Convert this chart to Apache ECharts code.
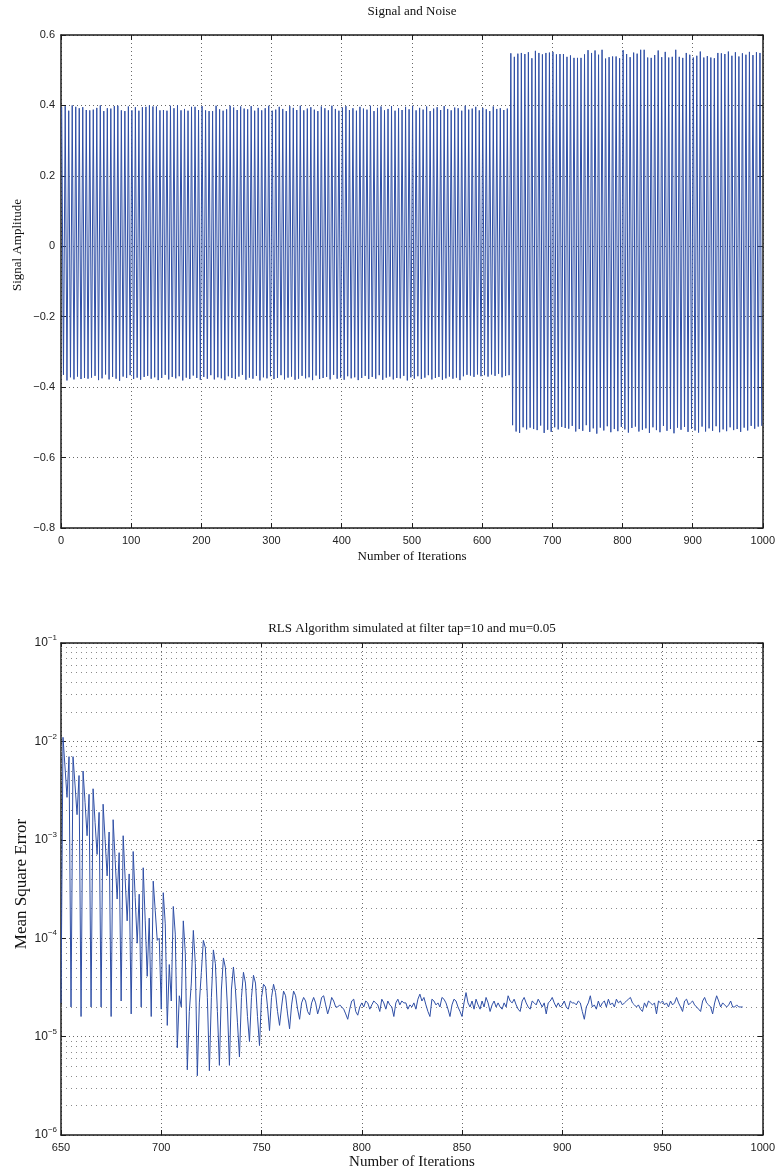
<!DOCTYPE html>
<html>
<head>
<meta charset="utf-8">
<script src="https://cdn.jsdelivr.net/npm/echarts@6/dist/echarts.min.js"></script>
<style>
html,body{margin:0;padding:0;background:#fff;}
#chart{width:778px;height:1171px;}
</style>
</head>
<body>
<div id="chart"></div>
<script>
// ---------- Top chart: Signal and Noise ----------
const TOP_X_TICKS = [0, 1000, 100];           // min, max, step
const TOP_Y_TICKS = [-0.8, 0.6, 0.2];
const SAMPLE_PERIOD = 5;                       // iterations per oscillation
// peak / trough amplitudes of each oscillation, iterations 0-639
const SMALL_PEAKS = [
  0.395,0.398,0.385,0.400,0.396,0.392,0.395,0.387,
  0.386,0.388,0.393,0.400,0.384,0.392,0.391,0.398,
  0.399,0.386,0.384,0.397,0.386,0.395,0.385,0.395,
  0.396,0.400,0.397,0.397,0.386,0.387,0.385,0.399,
  0.392,0.400,0.386,0.390,0.385,0.396,0.396,0.387,
  0.398,0.386,0.384,0.384,0.399,0.389,0.385,0.389,
  0.399,0.394,0.387,0.397,0.391,0.389,0.398,0.385,
  0.393,0.386,0.392,0.399,0.385,0.388,0.396,0.390,
  0.384,0.398,0.393,0.387,0.399,0.386,0.391,0.395,
  0.388,0.384,0.397,0.392,0.386,0.399,0.390,0.385,
  0.394,0.398,0.387,0.392,0.385,0.396,0.391,0.388,
  0.399,0.384,0.393,0.397,0.386,0.390,0.398,0.385,
  0.392,0.387,0.396,0.389,0.399,0.386,0.393,0.388,
  0.397,0.384,0.391,0.395,0.387,0.398,0.390,0.386,
  0.394,0.392,0.385,0.399,0.388,0.391,0.396,0.386,
  0.393,0.389,0.384,0.397,0.390,0.392,0.387,0.391
];
const SMALL_TROUGHS = [
  -0.365,-0.381,-0.372,-0.378,-0.370,-0.377,-0.374,-0.376,
  -0.373,-0.368,-0.380,-0.375,-0.364,-0.378,-0.371,-0.376,
  -0.382,-0.370,-0.374,-0.366,-0.377,-0.373,-0.379,-0.371,
  -0.368,-0.376,-0.372,-0.380,-0.374,-0.365,-0.378,-0.371,
  -0.375,-0.369,-0.381,-0.373,-0.377,-0.367,-0.374,-0.379,
  -0.371,-0.376,-0.366,-0.378,-0.372,-0.375,-0.380,-0.369,
  -0.374,-0.377,-0.370,-0.365,-0.379,-0.373,-0.376,-0.368,
  -0.381,-0.372,-0.375,-0.369,-0.377,-0.374,-0.366,-0.378,
  -0.373,-0.370,-0.379,-0.376,-0.368,-0.375,-0.372,-0.380,
  -0.367,-0.377,-0.374,-0.371,-0.378,-0.365,-0.376,-0.373,
  -0.379,-0.369,-0.375,-0.372,-0.380,-0.374,-0.368,-0.377,
  -0.371,-0.376,-0.366,-0.379,-0.373,-0.370,-0.378,-0.374,
  -0.375,-0.368,-0.381,-0.372,-0.376,-0.369,-0.377,-0.373,
  -0.366,-0.378,-0.374,-0.371,-0.379,-0.375,-0.370,-0.376,
  -0.373,-0.380,-0.369,-0.365,-0.367,-0.371,-0.364,-0.369,
  -0.366,-0.370,-0.364,-0.368,-0.362,-0.372,-0.368,-0.366
];
// iterations 640-999
const BIG_PEAKS = [
  0.548,0.538,0.547,0.549,0.546,0.551,0.534,0.555,
  0.549,0.545,0.549,0.550,0.552,0.545,0.546,0.546,
  0.538,0.542,0.535,0.535,0.535,0.545,0.557,0.549,
  0.556,0.544,0.558,0.533,0.537,0.539,0.539,0.534,
  0.557,0.546,0.537,0.550,0.547,0.558,0.558,0.536,
  0.535,0.543,0.556,0.537,0.552,0.536,0.538,0.558,
  0.538,0.535,0.549,0.544,0.536,0.541,0.553,0.536,
  0.540,0.536,0.534,0.549,0.548,0.546,0.553,0.541,
  0.551,0.539,0.548,0.544,0.552,0.543,0.551,0.549
];
const BIG_TROUGHS = [
  -0.508,-0.526,-0.530,-0.514,-0.520,-0.515,-0.519,-0.522,
  -0.509,-0.530,-0.521,-0.527,-0.514,-0.520,-0.513,-0.516,
  -0.518,-0.510,-0.526,-0.519,-0.524,-0.508,-0.527,-0.517,
  -0.532,-0.515,-0.523,-0.511,-0.528,-0.519,-0.525,-0.513,
  -0.520,-0.529,-0.516,-0.512,-0.526,-0.521,-0.517,-0.530,
  -0.514,-0.522,-0.528,-0.510,-0.524,-0.519,-0.531,-0.515,
  -0.521,-0.513,-0.527,-0.518,-0.523,-0.529,-0.512,-0.526,
  -0.517,-0.524,-0.511,-0.528,-0.520,-0.525,-0.514,-0.522,
  -0.519,-0.527,-0.515,-0.523,-0.510,-0.518,-0.512,-0.510
];

// ---------- Bottom chart: RLS mean square error ----------
const MSE_X_TICKS = [650, 1000, 50];
const MSE_Y_RANGE = [1e-6, 1e-1];
const MSE_START = 650;                         // first iteration of MSE
const MSE = [
  2.2e-5,1.1e-2,5.5e-3,2.7e-3,7.0e-3,2.0e-5,7.0e-3,3.6e-3,1.8e-3,4.5e-3,
  1.6e-5,5.0e-3,2.4e-3,1.1e-3,2.9e-3,2.0e-5,3.3e-3,1.5e-3,7.1e-4,1.9e-3,
  2.0e-5,2.3e-3,1.0e-3,4.3e-4,1.2e-3,1.6e-5,1.6e-3,6.3e-4,2.5e-4,7.4e-4,
  2.3e-5,1.1e-3,4.0e-4,1.5e-4,4.5e-4,1.7e-5,7.6e-4,2.6e-4,8.9e-5,2.8e-4,
  2.0e-5,5.2e-4,1.5e-4,4.1e-5,1.6e-4,1.6e-5,3.8e-4,1.9e-4,9.5e-5,1.0e-4,
  1.9e-5,2.9e-4,1.4e-4,1.3e-5,5.4e-5,2.3e-5,2.1e-4,1.1e-4,7.7e-6,2.6e-5,
  2.0e-5,1.5e-4,7.0e-5,4.6e-6,1.8e-5,3.5e-5,1.2e-4,5.5e-5,4.0e-6,2.2e-5,
  4.5e-5,9.5e-5,8.0e-5,2.5e-5,4.5e-6,2.5e-5,7.6e-5,5.5e-5,1.8e-5,5.1e-6,
  3.0e-5,6.3e-5,5.0e-5,2.0e-5,5.1e-6,3.0e-5,5.1e-5,3.0e-5,1.4e-5,6.2e-6,
  2.5e-5,4.5e-5,3.5e-5,1.6e-5,8.9e-6,2.5e-5,4.2e-5,3.5e-5,1.6e-5,8.1e-6,
  2.5e-5,3.4e-5,3.2e-5,2.0e-5,1.15e-5,2.5e-5,3.4e-5,2.8e-5,1.8e-5,1.3e-5,
  2.0e-5,2.9e-5,2.6e-5,1.7e-5,1.2e-5,2.1e-5,2.9e-5,2.6e-5,1.9e-5,1.5e-5,
  2.2e-5,2.5e-5,2.3e-5,1.8e-5,1.66e-5,2.2e-5,2.5e-5,2.2e-5,1.7e-5,2.0e-5,
  2.5e-5,2.6e-5,2.1e-5,1.7e-5,2.0e-5,2.5e-5,2.3e-5,2.0e-5,2.0e-5,2.1e-5,
  2.0e-5,1.9e-5,1.7e-5,1.5e-5,1.9e-5,2.3e-5,2.4e-5,1.8e-5,1.65e-5,2.0e-5,
  2.2e-5,2.0e-5,2.3e-5,2.2e-5,1.9e-5,2.1e-5,2.3e-5,2.2e-5,2.1e-5,1.8e-5,
  2.4e-5,2.2e-5,1.9e-5,2.3e-5,2.1e-5,2.0e-5,1.6e-5,2.2e-5,2.4e-5,2.1e-5,
  2.3e-5,2.2e-5,2.2e-5,1.9e-5,2.1e-5,2.0e-5,2.2e-5,1.9e-5,2.4e-5,2.7e-5,
  2.3e-5,2.5e-5,2.1e-5,1.8e-5,1.6e-5,2.4e-5,2.3e-5,2.1e-5,2.2e-5,2.0e-5,
  2.5e-5,2.4e-5,2.2e-5,1.9e-5,1.6e-5,2.1e-5,2.4e-5,2.3e-5,2.0e-5,1.8e-5,
  1.6e-5,2.2e-5,2.8e-5,2.2e-5,2.0e-5,2.3e-5,1.9e-5,2.4e-5,2.1e-5,1.9e-5,
  2.3e-5,2.0e-5,2.5e-5,2.2e-5,1.8e-5,2.1e-5,2.3e-5,2.0e-5,2.2e-5,2.0e-5,
  1.9e-5,2.2e-5,2.0e-5,2.6e-5,2.3e-5,2.2e-5,2.4e-5,2.1e-5,1.9e-5,1.8e-5,
  2.3e-5,2.5e-5,2.2e-5,2.0e-5,1.9e-5,2.3e-5,2.2e-5,2.1e-5,2.4e-5,2.2e-5,
  2.0e-5,2.2e-5,1.7e-5,2.2e-5,2.3e-5,2.5e-5,2.2e-5,2.0e-5,2.2e-5,2.0e-5,
  2.1e-5,2.3e-5,2.0e-5,1.9e-5,2.3e-5,2.2e-5,2.2e-5,2.1e-5,2.3e-5,2.2e-5,
  1.8e-5,1.5e-5,2.0e-5,2.2e-5,2.6e-5,2.0e-5,2.1e-5,1.9e-5,2.3e-5,2.0e-5,
  2.2e-5,2.3e-5,2.0e-5,2.4e-5,2.1e-5,2.2e-5,2.0e-5,2.4e-5,2.2e-5,2.3e-5,
  2.1e-5,2.2e-5,2.3e-5,2.4e-5,2.5e-5,2.2e-5,2.1e-5,2.0e-5,2.1e-5,1.9e-5,
  1.8e-5,2.2e-5,2.0e-5,2.3e-5,2.2e-5,2.1e-5,2.2e-5,1.7e-5,2.3e-5,2.2e-5,
  2.3e-5,2.1e-5,2.2e-5,2.0e-5,2.3e-5,2.1e-5,2.2e-5,2.5e-5,2.2e-5,2.0e-5,
  1.8e-5,2.3e-5,2.4e-5,2.1e-5,2.2e-5,2.3e-5,2.1e-5,2.0e-5,1.9e-5,1.8e-5,
  2.3e-5,2.5e-5,2.2e-5,2.1e-5,2.0e-5,1.7e-5,2.2e-5,2.6e-5,2.3e-5,2.0e-5,
  2.2e-5,2.1e-5,2.0e-5,2.1e-5,2.3e-5,2.0e-5,2.0e-5,2.1e-5,2.0e-5,2.0e-5,
  2.0e-5
];
const MINOR_MULTIPLIERS = [2,3,4,5,6,7,8,9];
const DECADES = [-6,-5,-4,-3,-2];

const TEXTS = {
  topTitle: 'Signal and Noise',
  topX: 'Number of Iterations',
  topY: 'Signal Amplitude',
  botTitle: 'RLS Algorithm simulated at filter tap=10 and mu=0.05',
  botX: 'Number of Iterations',
  botY: 'Mean Square Error'
};

// ---------- build ----------
const peaks = SMALL_PEAKS.concat(BIG_PEAKS);
const troughs = SMALL_TROUGHS.concat(BIG_TROUGHS);
const signalData = [];
for (let k = 0; k < peaks.length; k++) {
  signalData.push([k * SAMPLE_PERIOD + 1, peaks[k]]);
  signalData.push([k * SAMPLE_PERIOD + 3.5, troughs[k]]);
}
const mseData = MSE.map((v, i) => [MSE_START + i, v]);
const minorLines = [];
DECADES.forEach(e => MINOR_MULTIPLIERS.forEach(m => {
  const v = m * Math.pow(10, e);
  minorLines.push({ coords: [[MSE_X_TICKS[0], v], [MSE_X_TICKS[1], v]] });
}));

const LINE_COLOR = '#2f4fa6';
const AXIS_COLOR = '#1c1c1c';
const GRID_STYLE = { type: [1, 3], color: '#6a6a6a', width: 1 };
const SANS = 'Liberation Sans';

function axisBase(show) {
  return {
    axisLine: { show: true, onZero: false, lineStyle: { color: AXIS_COLOR, width: 1.5 } },
    axisTick: { show: true, inside: true, length: 5, lineStyle: { color: AXIS_COLOR, width: 1 } },
    axisLabel: { show: show, color: '#222', fontFamily: SANS, fontSize: 11, margin: 7, formatter: v => String(v) },
    splitLine: { show: show, lineStyle: GRID_STYLE }
  };
}

const chart = echarts.init(document.getElementById('chart'), null, { renderer: 'canvas' });

const fmtTop = v => {
  const r = Math.round(v * 10) / 10;
  if (r === 0) return '0';
  return (r < 0 ? '\u2212' : '') + Math.abs(r).toFixed(1);
};
const fmtLog = v => {
  const e = Math.round(Math.log10(v));
  return '{b|10}{s|' + (e < 0 ? '\u2212' : '') + Math.abs(e) + '}';
};
const logRich = {
  b: { fontFamily: SANS, fontSize: 12, color: '#222', lineHeight: 18 },
  s: { fontFamily: SANS, fontSize: 8, color: '#222', lineHeight: 8, verticalAlign: 'top' }
};

const option = {
  animation: false,
  backgroundColor: '#fff',
  grid: [
    { left: 61, right: 14, top: 35, height: 493, containLabel: false },
    { left: 61, right: 14, top: 643, height: 492, containLabel: false }
  ],
  xAxis: [
    Object.assign({ gridIndex: 0, type: 'value', position: 'bottom', min: TOP_X_TICKS[0], max: TOP_X_TICKS[1], interval: TOP_X_TICKS[2] }, axisBase(true)),
    Object.assign({ gridIndex: 0, type: 'value', position: 'top', min: TOP_X_TICKS[0], max: TOP_X_TICKS[1], interval: TOP_X_TICKS[2] }, axisBase(false)),
    Object.assign({ gridIndex: 1, type: 'value', position: 'bottom', min: MSE_X_TICKS[0], max: MSE_X_TICKS[1], interval: MSE_X_TICKS[2] }, axisBase(true)),
    Object.assign({ gridIndex: 1, type: 'value', position: 'top', min: MSE_X_TICKS[0], max: MSE_X_TICKS[1], interval: MSE_X_TICKS[2] }, axisBase(false))
  ],
  yAxis: [
    (function () { const a = Object.assign({ gridIndex: 0, type: 'value', position: 'left', min: TOP_Y_TICKS[0], max: TOP_Y_TICKS[1], interval: TOP_Y_TICKS[2] }, axisBase(true)); a.axisLabel.formatter = fmtTop; a.axisLabel.margin = 6; return a; })(),
    Object.assign({ gridIndex: 0, type: 'value', position: 'right', min: TOP_Y_TICKS[0], max: TOP_Y_TICKS[1], interval: TOP_Y_TICKS[2] }, axisBase(false)),
    (function () { const a = Object.assign({ gridIndex: 1, type: 'log', logBase: 10, position: 'left', min: MSE_Y_RANGE[0], max: MSE_Y_RANGE[1], splitNumber: 5 }, axisBase(true)); a.axisLabel.formatter = fmtLog; a.axisLabel.rich = logRich; a.axisLabel.margin = 4; return a; })(),
    Object.assign({ gridIndex: 1, type: 'log', logBase: 10, position: 'right', min: MSE_Y_RANGE[0], max: MSE_Y_RANGE[1], splitNumber: 5 }, axisBase(false))
  ],
  series: [
    {
      type: 'lines', coordinateSystem: 'cartesian2d', xAxisIndex: 2, yAxisIndex: 2,
      data: minorLines, silent: true, z: 1, polyline: false,
      lineStyle: { type: [1, 4], color: '#8a8a8a', width: 1, opacity: 1 },
      effect: { show: false }
    },
    {
      type: 'line', xAxisIndex: 0, yAxisIndex: 0, data: signalData,
      showSymbol: false, symbol: 'none', silent: true, z: 3,
      lineStyle: { color: LINE_COLOR, width: 1 }
    },
    {
      type: 'line', xAxisIndex: 2, yAxisIndex: 2, data: mseData,
      showSymbol: false, symbol: 'none', silent: true, z: 3,
      lineStyle: { color: LINE_COLOR, width: 1 }
    }
  ],
  graphic: [
    { type: 'text', x: 412, y: 12, style: { text: TEXTS.topTitle, font: '13px "Liberation Serif"', fill: '#111', align: 'center', verticalAlign: 'middle' } },
    { type: 'text', x: 412, y: 557, style: { text: TEXTS.topX, font: '13px "Liberation Serif"', fill: '#111', align: 'center', verticalAlign: 'middle' } },
    { type: 'text', x: 18, y: 245, rotation: Math.PI / 2, style: { text: TEXTS.topY, font: '13px "Liberation Serif"', fill: '#111', align: 'center', verticalAlign: 'middle' } },
    { type: 'text', x: 412, y: 629, style: { text: TEXTS.botTitle, font: '13px "Liberation Serif"', fill: '#111', align: 'center', verticalAlign: 'middle' } },
    { type: 'text', x: 412, y: 1162, style: { text: TEXTS.botX, font: '15px "Liberation Serif"', fill: '#111', align: 'center', verticalAlign: 'middle' } },
    { type: 'text', x: 22, y: 884, rotation: Math.PI / 2, style: { text: TEXTS.botY, font: '17px "Liberation Serif"', fill: '#111', align: 'center', verticalAlign: 'middle' } }
  ]
};
chart.setOption(option);
</script>
</body>
</html>
